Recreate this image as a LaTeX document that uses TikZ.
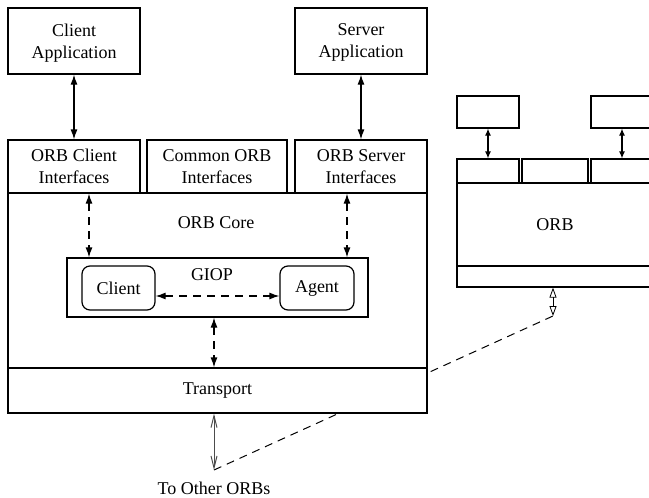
\documentclass[tikz,border=0pt]{standalone}
\usepackage{fontspec}
\setmainfont{Liberation Serif}
\usetikzlibrary{arrows.meta,calc}
\begin{document}
\begin{tikzpicture}[x=0.5pt,y=-0.5pt,line width=0.6pt,
  box/.style={draw,fill=white,inner sep=0pt,align=center,font=\fontsize{9}{11}\selectfont},
  twoline/.style={box,text depth=-5pt},
  rbox/.style={box,rounded corners=4pt},
  lbl/.style={inner sep=0pt,font=\fontsize{9}{11}\selectfont},
  both/.style={{Latex[length=5pt,width=3.5pt]}-{Latex[length=5pt,width=3.5pt]}},
  dboth/.style={both,dash pattern=on 4pt off 3pt},
  wire/.style={{Straight Barb[length=6pt,width=3pt]}-{Straight Barb[length=6pt,width=3pt]},line width=0.5pt,black!70},
  rwire/.style={{Triangle[open,length=5pt,width=3.5pt]}-{Triangle[open,length=5pt,width=3.5pt]},line width=0.4pt},
  sboth/.style={{Latex[length=3.5pt,width=3pt]}-{Latex[length=3.5pt,width=3pt]}},
  link/.style={dash pattern=on 4pt off 3pt,line width=0.5pt}]

\useasboundingbox (0,0) rectangle (649,498);
\clip (0,0) rectangle (649,498);

\coordinate (tip) at (214,470);
\coordinate (rtip) at (553,316);
\draw[link] (tip) -- (rtip);

% left ORB
\node[twoline,minimum width=66pt,minimum height=33pt] (capp) at (74,41) {Client\\Application};
\node[twoline,minimum width=66pt,minimum height=33pt] (sapp) at (361,41) {Server\\Application};
\node[twoline,minimum width=66pt,minimum height=26.5pt] (cif) at (74,166.5) {ORB Client\\Interfaces};
\node[twoline,minimum width=70pt,minimum height=26.5pt] (comif) at (217,166.5) {Common ORB\\Interfaces};
\node[twoline,minimum width=66pt,minimum height=26.5pt] (sif) at (361,166.5) {ORB Server\\Interfaces};
\node[box,minimum width=209.5pt,minimum height=87.5pt] (core) at (217.5,280.5) {};
\node[lbl] (corel) at (216,223) {ORB Core};
\node[box,minimum width=209.5pt,minimum height=22.5pt] (trans) at (217.5,390.5) {Transport};
\node[box,minimum width=150.5pt,minimum height=29.5pt] (giop) at (217.5,287.5) {};
\node[lbl] (giopl) at (212,275) {GIOP};
\node[rbox,minimum width=36.5pt,minimum height=22pt] (cli) at (118.5,288) {Client};
\node[rbox,minimum width=37pt,minimum height=22pt] (agt) at (317,288) {Agent};
\node[lbl] (other) at (214,488) {To Other ORBs};

\draw[both] (capp.south) -- (cif.north);
\draw[both] (sapp.south) -- (sif.north);
\draw[dboth] ([xshift=7.5pt]cif.south) -- ([xshift=7.5pt]cif.south |- giop.north);
\draw[dboth] ([xshift=-7pt]sif.south) -- ([xshift=-7pt]sif.south |- giop.north);
\draw[dboth] ($(cli.east)+(0,8)$) -- ($(agt.west)+(0,8)$);
\draw[dboth] ([xshift=-1.75pt]giop.south) -- ([xshift=-1.75pt]giop.south |- trans.north);
\draw[wire] (trans.south -| tip) -- (tip);

% right ORB
\node[box,minimum width=31pt,minimum height=16pt] (rapp1) at (488,112) {};
\node[box,minimum width=31pt,minimum height=16pt] (rapp2) at (622,112) {};
\node[box,minimum width=31pt,minimum height=12pt] (rif1) at (488,171) {};
\node[box,minimum width=33pt,minimum height=12pt] (rif2) at (555,171) {};
\node[box,minimum width=31pt,minimum height=12pt] (rif3) at (622,171) {};
\node[box,minimum width=98pt,minimum height=41.5pt] (rorb) at (555,224.5) {ORB};
\node[box,minimum width=98pt,minimum height=10.5pt] (rtrans) at (555,276.5) {};

\draw[sboth] (rapp1.south) -- (rif1.north);
\draw[sboth] (rapp2.south) -- (rif3.north);
\draw[rwire] (rtrans.south -| rtip) -- (rtip);
\end{tikzpicture}
\end{document}
